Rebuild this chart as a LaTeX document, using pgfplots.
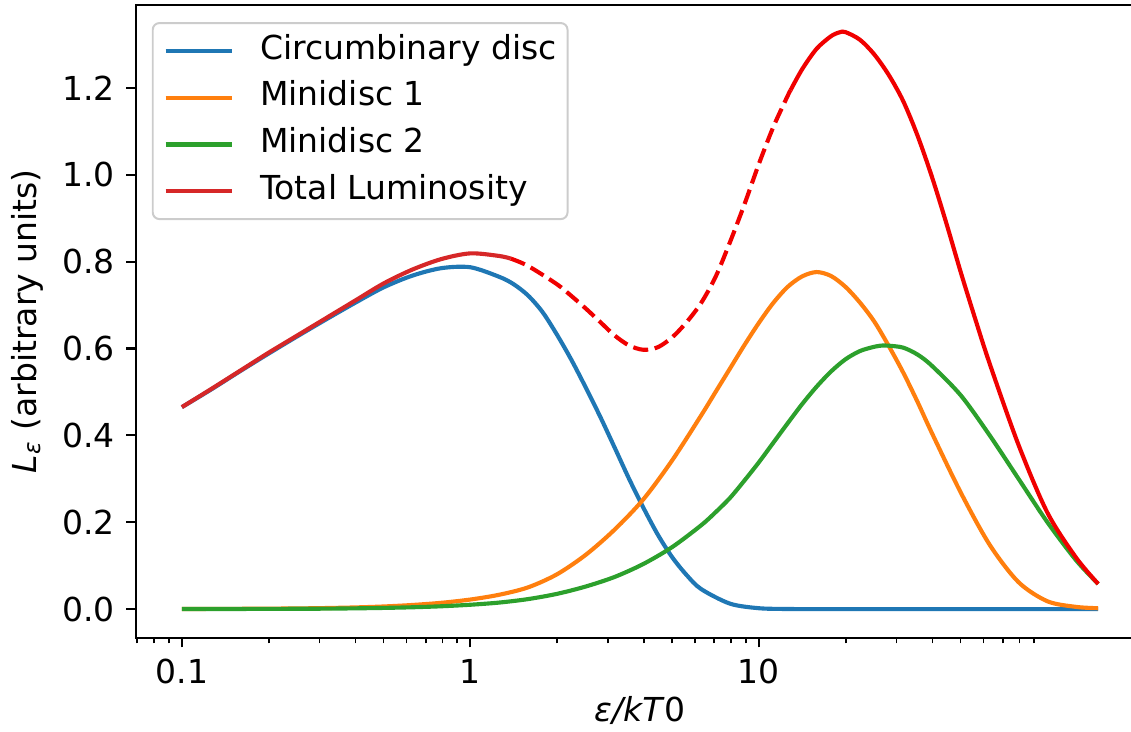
\documentclass[border=0pt]{standalone}
\usepackage{fontspec}
\setmainfont{DejaVu Sans}
\usepackage{pgfplots}
\pgfplotsset{compat=1.18}
\definecolor{tabblue}{HTML}{1F77B4}
\definecolor{taborange}{HTML}{FF7F0E}
\definecolor{tabgreen}{HTML}{2CA02C}
\definecolor{tabred}{HTML}{D62728}
\definecolor{purered}{HTML}{F00000}

\pgfplotstableread{
x L
0.1 0.465
0.12589 0.505
0.15849 0.547
0.19953 0.588
0.25119 0.628
0.31623 0.667
0.39811 0.705
0.50119 0.741
0.63096 0.768
0.79433 0.785
1 0.787
1.2589 0.765
1.4125 0.748
1.5849 0.722
1.7783 0.684
1.9953 0.632
2.2387 0.574
2.5119 0.510
2.8184 0.443
3.1623 0.372
3.5481 0.300
3.9811 0.233
4.4668 0.171
5.0119 0.119
5.6234 0.078
6.3096 0.046
7.9433 0.0125
10 0.002
12.589 0.0002
15.849 0.0
25.119 0.0
39.811 0.0
63.096 0.0
100 0.0
150 0.0
}\circumbinary

\pgfplotstableread{
x L
0.1 0.0002
0.15849 0.0006
0.25119 0.0015
0.31623 0.0024
0.39811 0.0038
0.50119 0.006
0.63096 0.0095
0.79433 0.0145
1 0.022
1.2589 0.033
1.5849 0.050
1.9953 0.080
2.5119 0.125
3.1623 0.183
3.9811 0.253
5.0119 0.343
6.3096 0.446
7.0795 0.500
7.9433 0.554
8.9125 0.608
10 0.659
11.220 0.705
12.589 0.742
14.125 0.766
15.849 0.776
17.783 0.767
19.953 0.742
22.387 0.706
25.119 0.662
28.184 0.606
31.623 0.545
35.481 0.477
39.811 0.405
50.119 0.268
63.096 0.148
79.433 0.062
100 0.018
125.89 0.005
150 0.002
}\minione

\pgfplotstableread{
x L
0.1 0.0001
0.15849 0.0003
0.25119 0.0007
0.31623 0.001
0.39811 0.0017
0.50119 0.0027
0.63096 0.0042
0.79433 0.0065
1 0.010
1.2589 0.015
1.5849 0.023
1.9953 0.035
2.5119 0.052
3.1623 0.074
3.9811 0.104
5.0119 0.143
6.3096 0.193
7.0795 0.223
7.9433 0.256
8.9125 0.296
10 0.338
11.220 0.383
12.589 0.428
14.125 0.472
15.849 0.512
17.783 0.547
19.953 0.575
22.387 0.594
25.119 0.604
26.915 0.607
28.184 0.6065
31.623 0.602
35.481 0.586
39.811 0.560
50.119 0.492
63.096 0.400
79.433 0.300
100 0.200
125.89 0.112
150 0.058
}\minitwo

\pgfplotstableread{
x L
0.1 0.465
0.12589 0.506
0.15849 0.548
0.19953 0.590
0.25119 0.630
0.31623 0.670
0.39811 0.710
0.50119 0.750
0.63096 0.782
0.79433 0.806
1 0.819
1.2589 0.813
1.3804 0.807
}\totalA

\pgfplotstableread{
x L
1.3804 0.807
1.5849 0.790
1.9953 0.748
2.2387 0.721
2.5119 0.692
2.8184 0.661
3.1623 0.630
3.5481 0.607
3.9811 0.597
4.4668 0.603
5.0119 0.626
5.6234 0.661
6.3096 0.705
7.0795 0.765
7.9433 0.845
8.9125 0.932
10 1.025
11.220 1.110
12.589 1.182
12.882 1.195
}\totalB

\pgfplotstableread{
x L
12.882 1.195
14.125 1.243
15.849 1.290
17.783 1.319
19.055 1.328
19.953 1.3285
22.387 1.311
25.119 1.277
28.184 1.230
31.623 1.170
35.481 1.090
39.811 0.995
44.668 0.888
50.119 0.775
56.234 0.668
63.096 0.565
79.433 0.378
100 0.222
125.89 0.118
150 0.058
}\totalC

\begin{document}
\begin{tikzpicture}
\begin{axis}[
  xmode=log,
  scale only axis,
  width=305.5pt, height=191.8pt,
  xmin=0.0693, xmax=216,
  ymin=-0.066, ymax=1.391,
  xtick={0.1,1,10}, xticklabels={0.1,1,10},
  minor xtick={0.07,0.08,0.09,0.2,0.3,0.4,0.5,0.6,0.7,0.8,0.9,2,3,4,5,6,7,8,9,20,30,40,50,60,70,80,90},
  ytick={0,0.2,0.4,0.6,0.8,1.0,1.2},
  yticklabel style={/pgf/number format/.cd, fixed, fixed zerofill, precision=1},
  /pgf/number format/assume math mode=true,
  tick label style={font=\fontsize{10}{12}\selectfont},
  label style={font=\fontsize{10}{12}\selectfont},
  xlabel style={yshift=3pt},
  ylabel style={yshift=-1pt},
  tick align=outside,
  xtick pos=bottom, ytick pos=left,
  major tick length=2.9pt, minor tick length=1.7pt,
  every tick/.style={black, line width=0.66pt},
  minor tick style={line width=0.5pt},
  axis line style={line width=0.66pt},
  xlabel={\textit{ε/kT}0},
  ylabel={\textit{L}\textsubscript{\textit{ε}} (arbitrary units)},
  legend cell align=left,
  legend image code/.code={\draw[#1] (0pt,0pt) -- (20pt,0pt);},
  legend style={at={(0,1)}, anchor=north west, xshift=4.8pt, yshift=-5.2pt,
    draw=black!20, line width=0.6pt, rounded corners=2pt, fill=white, fill opacity=0.8, text opacity=1,
    inner xsep=3.3pt, inner ysep=3.4pt, row sep=4.2pt, column sep=8pt,
    nodes={inner sep=0pt, text height=7.5pt, text depth=2.5pt},
    font=\fontsize{10}{12}\selectfont},
]
\addplot[tabblue, line width=1.25pt, smooth] table[x=x,y=L] {\circumbinary};
\addlegendentry{Circumbinary disc}
\addplot[taborange, line width=1.25pt, smooth] table[x=x,y=L] {\minione};
\addlegendentry{Minidisc 1}
\addplot[tabgreen, line width=1.25pt, smooth] table[x=x,y=L] {\minitwo};
\addlegendentry{Minidisc 2}
\addplot[tabred, line width=1.25pt, smooth] table[x=x,y=L] {\totalA};
\addlegendentry{Total Luminosity}
\addplot[purered, line width=1.25pt, smooth, dash pattern=on 4.6pt off 2pt, forget plot] table[x=x,y=L] {\totalB};
\addplot[purered, line width=1.25pt, smooth, forget plot] table[x=x,y=L] {\totalC};
\coordinate (SW) at (rel axis cs:0,0);
\coordinate (NE) at (rel axis cs:1,1);
\end{axis}
\pgfresetboundingbox
\path[use as bounding box] ([xshift=-41.2pt,yshift=-28.5pt]SW) rectangle ([xshift=-3.9pt,yshift=1.5pt]NE);
\end{tikzpicture}
\end{document}
